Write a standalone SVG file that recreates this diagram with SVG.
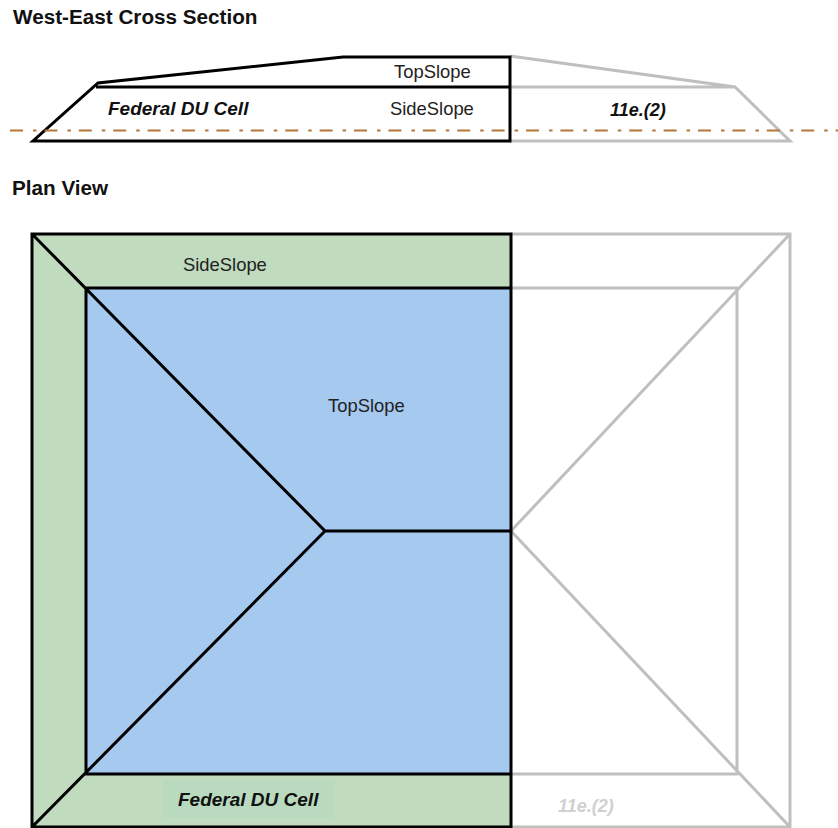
<svg xmlns="http://www.w3.org/2000/svg" width="838" height="828" viewBox="0 0 838 828">
<style>
text{font-family:"Liberation Sans",Arial,sans-serif;fill:#111}
.h{font-size:20.7px;font-weight:bold}
.l{font-size:18.4px;fill:#222}
.b{font-size:19px;font-weight:bold;font-style:italic}
.e{font-size:18px;font-weight:bold;font-style:italic}
.k{fill:none;stroke:#000;stroke-width:3;stroke-linejoin:miter}
.g{fill:none;stroke:#bfbfbf;stroke-width:3}
</style>
<rect width="838" height="828" fill="#fff"/>
<text class="h" x="13" y="24">West-East Cross Section</text>
<text class="h" x="12" y="195">Plan View</text>
<g id="plan-fills">
<rect x="32" y="234" width="479" height="594" fill="#c0dbbe"/>
<rect x="86" y="288" width="425" height="486" fill="#a6c9f0"/>
<rect x="163" y="780" width="171" height="38" fill="#b9dabf"/>
</g>
<g id="connectors">
<path class="g" d="M510 56L735 87L790 141H510M510 87H735"/>
<path class="k" d="M510 57H343L98 83L33 141H510ZM96 87H510"/>
<path d="M10 130.500H838" fill="none" stroke="#b5763a" stroke-width="1.800" stroke-dasharray="13 10 3.500 7.900"/>
<path class="g" d="M511 234H790V827H511M511 288H737V774H511M790 234L511 531L790 827"/>
<path class="k" d="M511 234H32V827H511ZM86 288H511V774H86ZM32 234L325 531L32 827M325 531H511"/>
</g>
<g id="section-labels">
<text class="l" x="394" y="78">TopSlope</text>
<text class="l" x="390" y="115">SideSlope</text>
<text class="b" x="108" y="115">Federal DU Cell</text>
<text class="e" x="610" y="116">11e.(2)</text>
</g>
<g id="plan-labels">
<text class="l" x="183" y="271">SideSlope</text>
<text class="l" x="328" y="412">TopSlope</text>
<text class="b" x="178" y="806">Federal DU Cell</text>
<text class="e" x="558" y="812" style="fill:#d0d0d0">11e.(2)</text>
</g>
</svg>
